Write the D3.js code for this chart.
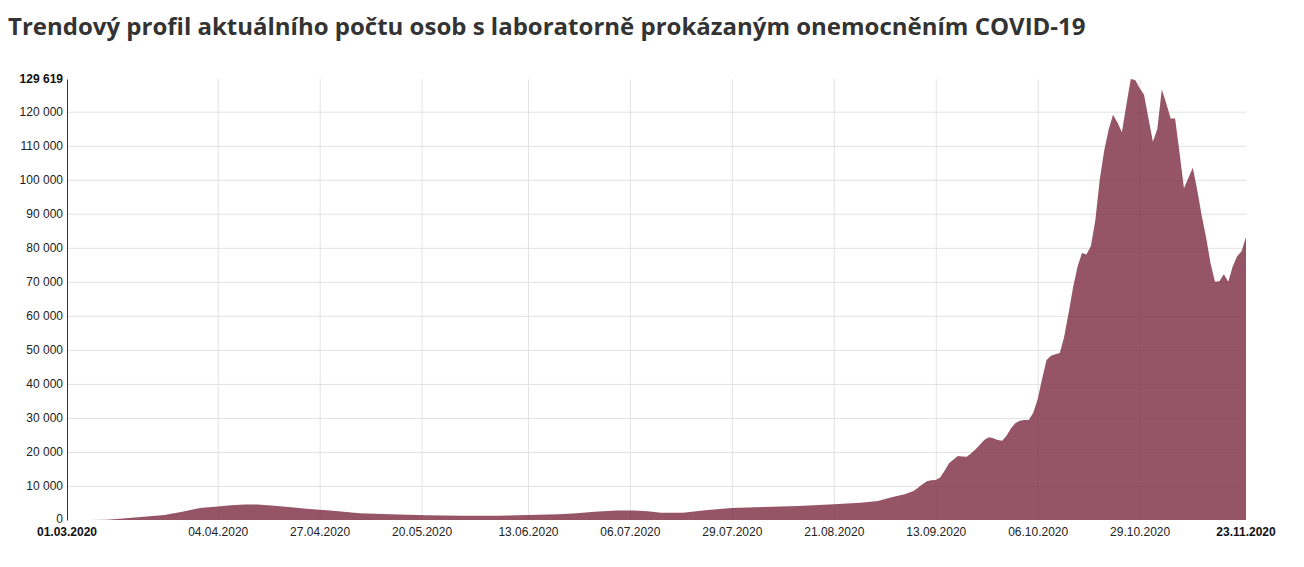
<!DOCTYPE html>
<html>
<head>
<meta charset="utf-8">
<script src="https://cdn.jsdelivr.net/npm/d3@7"></script>
<style>
  body { margin: 0; background: #fff; }
  .chartTitle { font-family: "Open Sans", sans-serif; font-weight: bold; fill: #333; }
  .axis text { font-family: "Liberation Sans", Arial, sans-serif; font-size: 12px; fill: #222; }
  .grid line { stroke: #e2e2e2; stroke-width: 1; }
  .grid path { display: none; }
</style>
</head>
<body>
<div class="chartWrap"></div>
<script>
//Data - aktualni pocet osob s prokazanym onemocnenim
const days = [
  "2020-03-01", "2020-03-06", "2020-03-10", "2020-03-15", "2020-03-19", "2020-03-23", "2020-03-27", "2020-03-31",
  "2020-04-04", "2020-04-07", "2020-04-10", "2020-04-13", "2020-04-16", "2020-04-20", "2020-04-24", "2020-04-30",
  "2020-05-06", "2020-05-13", "2020-05-21", "2020-05-29", "2020-06-06", "2020-06-13", "2020-06-20", "2020-06-24",
  "2020-06-28", "2020-07-03", "2020-07-07", "2020-07-10", "2020-07-13", "2020-07-18", "2020-07-23", "2020-07-29",
  "2020-08-05", "2020-08-13", "2020-08-21", "2020-08-27", "2020-08-31", "2020-09-02", "2020-09-04", "2020-09-06",
  "2020-09-08", "2020-09-09", "2020-09-10", "2020-09-11", "2020-09-12", "2020-09-13", "2020-09-14", "2020-09-15",
  "2020-09-16", "2020-09-17", "2020-09-18", "2020-09-19", "2020-09-20", "2020-09-21", "2020-09-22", "2020-09-23",
  "2020-09-24", "2020-09-25", "2020-09-26", "2020-09-27", "2020-09-28", "2020-09-29", "2020-09-30", "2020-10-01",
  "2020-10-02", "2020-10-03", "2020-10-04", "2020-10-05", "2020-10-06", "2020-10-07", "2020-10-08", "2020-10-09",
  "2020-10-10", "2020-10-11", "2020-10-12", "2020-10-13", "2020-10-14", "2020-10-15", "2020-10-16", "2020-10-17",
  "2020-10-18", "2020-10-19", "2020-10-20", "2020-10-21", "2020-10-22", "2020-10-23", "2020-10-24", "2020-10-25",
  "2020-10-26", "2020-10-27", "2020-10-28", "2020-10-29", "2020-10-30", "2020-10-31", "2020-11-01", "2020-11-02",
  "2020-11-03", "2020-11-04", "2020-11-05", "2020-11-06", "2020-11-07", "2020-11-08", "2020-11-09", "2020-11-10",
  "2020-11-11", "2020-11-12", "2020-11-13", "2020-11-14", "2020-11-15", "2020-11-16", "2020-11-17", "2020-11-18",
  "2020-11-19", "2020-11-20", "2020-11-21", "2020-11-22"
];
const active = [
  0, 20, 60, 600, 1000, 1450, 2400, 3500,
  4000, 4300, 4550, 4550, 4250, 3800, 3300, 2750,
  2000, 1700, 1400, 1270, 1280, 1450, 1700, 1960,
  2450, 2800, 2780, 2550, 2100, 2150, 2900, 3500,
  3800, 4150, 4600, 5100, 5600, 6300, 7000, 7550,
  8500, 9500, 10500, 11400, 11700, 11760, 12500, 14500,
  16700, 17800, 18800, 18700, 18600, 19600, 20800, 22200,
  23600, 24300, 24000, 23500, 23300, 24800, 27000, 28500,
  29200, 29400, 29400, 31500, 35500, 41500, 47000, 48300,
  48700, 49100, 54000, 61000, 68500, 74500, 78500, 78000,
  80500, 88000, 100000, 108500, 114700, 119100, 116800, 114000,
  122000, 129619, 129300, 127000, 125000, 118000, 111200, 115000,
  126500, 122500, 118000, 118000, 108000, 97500, 100500, 103500,
  97000, 89500, 83000, 75500, 70000, 70200, 72200, 70000,
  74500, 77500, 79000, 83200
];
const tickDays = ["2020-04-04", "2020-04-27", "2020-05-20", "2020-06-13", "2020-07-06",
  "2020-07-29", "2020-08-21", "2020-09-13", "2020-10-06", "2020-10-29"];
const endLabels = ["01.03.2020", "23.11.2020"];
const yTicks = [0, 10000, 20000, 30000, 40000, 50000, 60000, 70000, 80000, 90000, 100000, 110000, 120000];
const title = "Trendový profil aktuálního počtu osob s laboratorně prokázaným onemocněním COVID-19";

//Variables
let w = 1304,
  h = 567,
  margin = {top: 79, right: 58, bottom: 47, left: 67};
let parseDay = d3.timeParse("%Y-%m-%d"),
  fmtDay = d3.timeFormat("%d.%m.%Y"),
  cz = d3.formatLocale({decimal: ",", thousands: " ", grouping: [3], currency: ["", " Kč"]}),
  fmtNum = cz.format(",d");

let data = days.map(function(d, i) {return {date: parseDay(d), value: active[i]};});
let maxVal = d3.max(active);

let canvas = d3.select(".chartWrap").append("svg").attr("width", w).attr("height", h);

//Scale
let xScale = d3.scaleTime()
  .domain(d3.extent(data, function(d) {return d.date;}))
  .range([margin.left, w - margin.right]);
let yScale = d3.scaleLinear()
  .domain([0, maxVal])
  .range([h - margin.bottom, margin.top]);

//Title
canvas.append("text").text(title).attr("class", "chartTitle")
  .attr("x", 8).attr("y", 35).attr("font-size", 24);

//Grid
canvas.append("g").attr("class", "grid")
  .attr("transform", "translate(" + margin.left + ",0)")
  .call(d3.axisLeft(yScale).tickValues(yTicks.slice(1)).tickSize(-(w - margin.left - margin.right)).tickFormat(""));
canvas.append("g").attr("class", "grid")
  .attr("transform", "translate(0," + (h - margin.bottom) + ")")
  .call(d3.axisBottom(xScale).tickValues(tickDays.map(parseDay)).tickSize(-(h - margin.bottom - margin.top)).tickFormat(""));

//Area
let area = d3.area()
  .x(function(d) {return xScale(d.date);})
  .y0(yScale(0))
  .y1(function(d) {return yScale(d.value);});
canvas.append("path").datum(data)
  .attr("d", area)
  .attr("fill", "#7a2b40")
  .attr("fill-opacity", 0.8);

//Y axis
let yAxis = canvas.append("g").attr("class", "axis")
  .attr("transform", "translate(" + margin.left + ",0)")
  .call(d3.axisLeft(yScale).tickValues(yTicks).tickSize(0).tickPadding(4).tickFormat(fmtNum));
yAxis.select(".domain").attr("stroke", "#333");
yAxis.selectAll(".tick text").filter(function(d) {return d === 0;}).attr("dy", "0.2em");
//max label on top
yAxis.append("text").text(fmtNum(maxVal))
  .attr("x", -4).attr("y", yScale(maxVal)).attr("dy", "0.32em")
  .attr("text-anchor", "end").attr("font-weight", "bold").style("fill", "#111");

//X axis (labels only)
let xAxis = canvas.append("g").attr("class", "axis")
  .attr("transform", "translate(0," + (h - margin.bottom) + ")")
  .call(d3.axisBottom(xScale).tickValues(tickDays.map(parseDay)).tickSize(0).tickPadding(7.5).tickFormat(fmtDay));
xAxis.select(".domain").remove();
let ends = xScale.range();
for (let i = 0; i < endLabels.length; i++) {
  xAxis.append("text").text(endLabels[i])
    .attr("x", ends[i]).attr("y", 7.5).attr("dy", "0.71em")
    .attr("text-anchor", "middle").attr("font-weight", "bold").style("fill", "#111");
}
</script>
</body>
</html>
